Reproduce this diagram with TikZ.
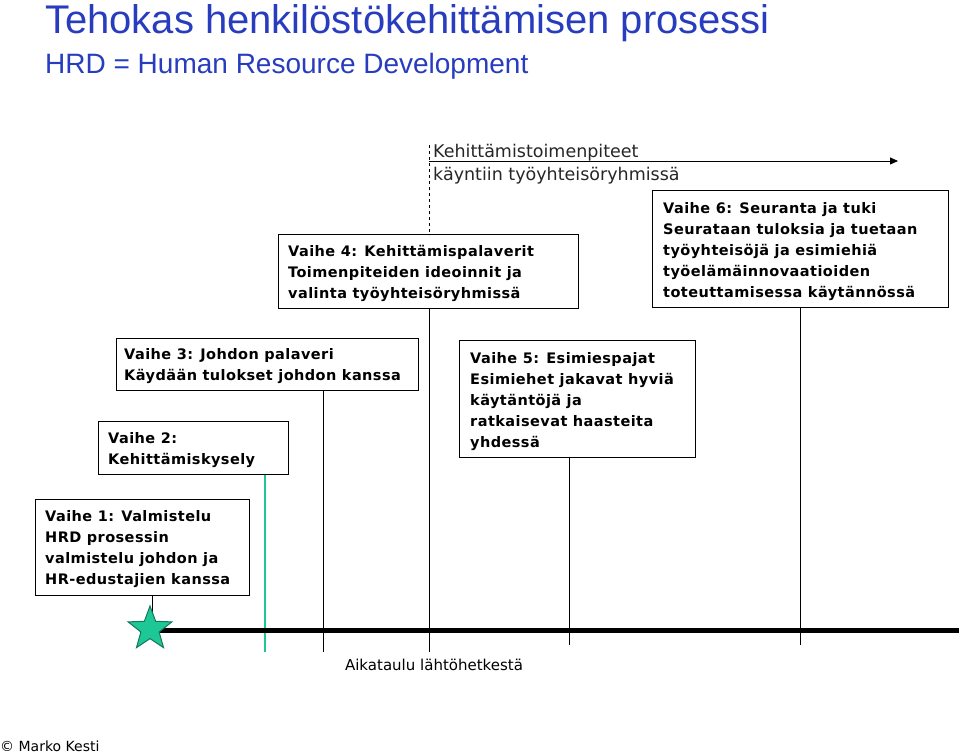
\documentclass[tikz,border=0pt]{standalone}
\usepackage{fontspec}
\setmainfont{DejaVu Sans}
\newfontfamily\arialf{Liberation Sans}
\usetikzlibrary{shapes.geometric,arrows.meta}
\definecolor{ttl}{RGB}{40,60,190}
\definecolor{grn}{RGB}{30,200,150}
\tikzset{
 phasebox/.style={anchor=north west,align=left,inner sep=0pt,font=\fontsize{14.5}{21}\bfseries\addfontfeature{LetterSpace=3}},
 vline/.style={line width=1pt}
}
\begin{document}
\begin{tikzpicture}[x=1pt,y=-1pt]
\useasboundingbox (0,0) rectangle (959,754);
\node[anchor=base west,inner sep=0,text=ttl,font=\arialf\fontsize{40}{44}\selectfont] (t1) at (45,34) {Tehokas henkilöstökehittämisen prosessi};
\node[anchor=base west,inner sep=0,text=ttl,font=\arialf\fontsize{28}{32}\selectfont] (t2) at (45,74) {HRD = Human Resource Development};
% boxes
\draw[line width=1pt] (278,235) rectangle (578,308);
\node[phasebox] (b4) at (288,245) {Vaihe 4: Kehittämispalaverit\\Toimenpiteiden ideoinnit ja\\valinta työyhteisöryhmissä};
\draw[line width=1pt] (652,191) rectangle (948,307);
\node[phasebox] (b6) at (663,202) {Vaihe 6: Seuranta ja tuki\\Seurataan tuloksia ja tuetaan\\työyhteisöjä ja esimiehiä\\työelämäinnovaatioiden\\toteuttamisessa käytännössä};
\draw[line width=1pt] (116,338) rectangle (418,390);
\node[phasebox] (b3) at (124,348) {Vaihe 3: Johdon palaveri\\Käydään tulokset johdon kanssa};
\draw[line width=1pt] (459,340) rectangle (695,457);
\node[phasebox] (b5) at (470,352) {Vaihe 5: Esimiespajat\\Esimiehet jakavat hyviä\\käytäntöjä ja\\ratkaisevat haasteita\\yhdessä};
\draw[line width=1pt] (98,421) rectangle (288,474);
\node[phasebox] (b2) at (108,432) {Vaihe 2:\\Kehittämiskysely};
\draw[line width=1pt] (35,499) rectangle (249,595);
\node[phasebox] (b1) at (45,510) {Vaihe 1: Valmistelu\\HRD prosessin\\valmistelu johdon ja\\HR-edustajien kanssa};
% vertical lines
\draw[vline] (152,595) -- (152,625);
\draw[line width=2.5pt,grn] (265,475) -- (265,652);
\draw[vline] (323,390) -- (323,652);
\draw[vline,dashed] (429,145) -- (429,235);
\draw[vline] (429,308) -- (429,652);
\draw[vline] (569,458) -- (569,645);
\draw[vline] (800,307) -- (800,645);
% axis
\coordinate (a0) at (160,630); \coordinate (a1) at (959,630);
\draw[line width=5pt] (a0) -- (a1);
\node[star,star points=5,star point ratio=2.4,minimum size=46pt,inner sep=0,fill=grn,draw=black!40!grn,line width=1pt] (st) at (150,629) {};
% top arrow
\coordinate (p0) at (429,161); \coordinate (p1) at (898,161);
\draw[line width=0.8pt,-{Triangle[length=8pt,width=7pt]}] (p0) -- (p1);
\node[anchor=base west,inner sep=0,font=\fontsize{17.5}{20}\selectfont,text=black!85] (k1) at (433,158) {Kehittämistoimenpiteet};
\node[anchor=base west,inner sep=0,font=\fontsize{17.5}{20}\selectfont,text=black!85] (k2) at (433,181) {käyntiin työyhteisöryhmissä};
\node[anchor=base,inner sep=0,font=\fontsize{15}{18}\selectfont] (ax) at (434,670) {Aikataulu lähtöhetkestä};
\node[anchor=base west,inner sep=0,font=\fontsize{14}{16}\selectfont] (cp) at (0,751) {© Marko Kesti};
\end{tikzpicture}
\end{document}
